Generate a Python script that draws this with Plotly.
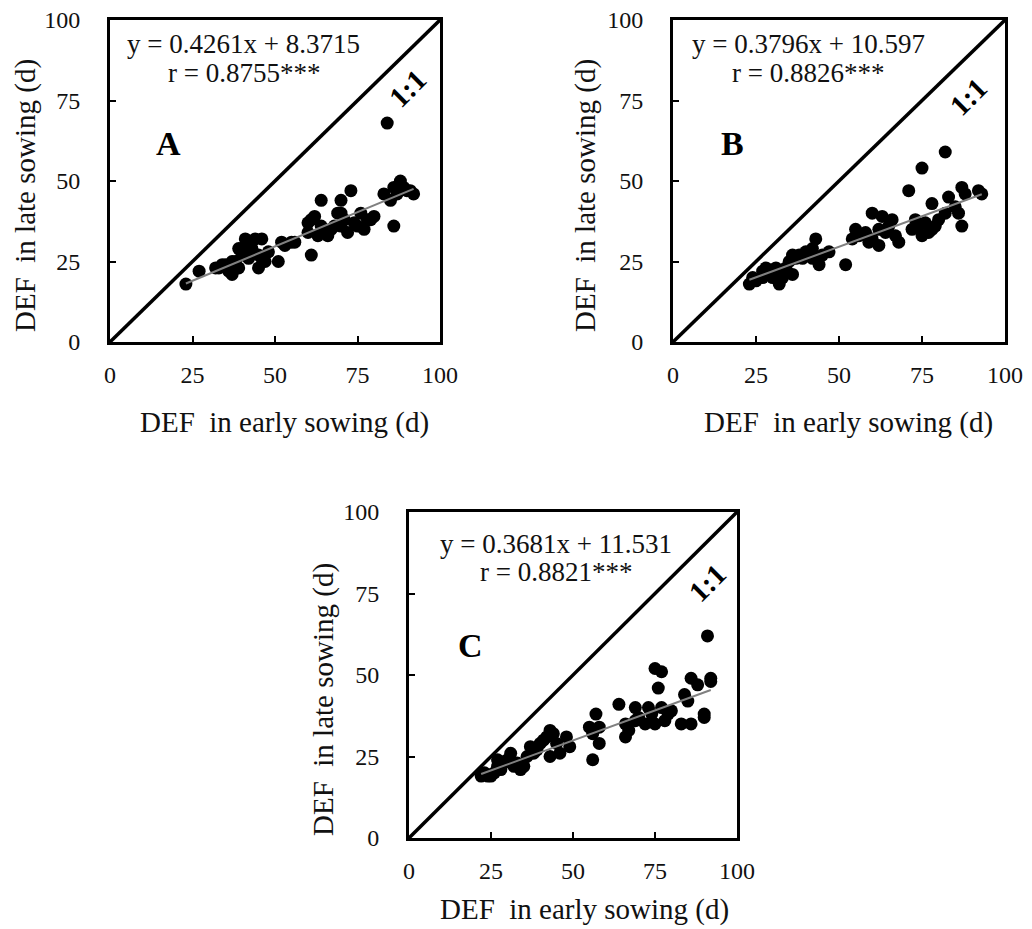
import plotly.graph_objects as go

# Days from emergence to flowering (DEF), early vs. late sowing, three panels
a_early = [23, 27, 32, 33, 34, 35, 36, 37, 37, 38, 39, 39, 40, 41, 41, 42, 43, 44, 45, 45,
           46, 46, 47, 48, 51, 52, 53, 55, 56, 60, 60, 61, 61, 62, 63, 64, 64, 65, 66, 67,
           68, 69, 70, 70, 70, 71, 72, 73, 74, 75, 76, 77, 78, 79, 80, 83, 84, 85, 86, 86,
           87, 88, 89, 90, 91, 92]
a_late = [18, 22, 23, 23, 24, 24, 22, 21, 25, 25, 29, 23, 27, 32, 30, 26, 29, 32, 23, 27,
          32, 26, 25, 28, 25, 31, 30, 31, 31, 37, 34, 27, 38, 39, 33, 44, 36, 34, 33, 35,
          36, 40, 44, 36, 40, 38, 34, 47, 37, 36, 40, 35, 38, 38, 39, 46, 68, 44, 36, 48,
          46, 50, 48, 47, 47, 46]

b_early = [23, 24, 25, 27, 27, 28, 29, 30, 31, 31, 32, 33, 34, 35, 36, 36, 37, 38, 39, 40,
           41, 42, 42, 43, 44, 45, 47, 52, 54, 55, 56, 58, 59, 60, 60, 62, 62, 63, 64, 65,
           66, 67, 68, 71, 72, 73, 74, 75, 75, 76, 77, 78, 78, 79, 80, 82, 82, 83, 85, 86,
           87, 87, 88, 92, 93]
b_late = [18, 20, 19, 20, 22, 23, 21, 20, 22, 23, 18, 20, 23, 25, 21, 27, 26, 27, 26, 28,
          27, 26, 29, 32, 24, 27, 28, 24, 32, 35, 33, 34, 31, 40, 32, 30, 35, 39, 34, 36,
          38, 33, 31, 47, 35, 38, 36, 54, 33, 37, 34, 43, 35, 36, 38, 59, 40, 45, 42, 40,
          48, 36, 46, 47, 46]

c_early = [22, 23, 24, 25, 26, 27, 27, 28, 29, 30, 31, 31, 32, 33, 34, 35, 36, 37, 38, 39,
           40, 41, 42, 43, 43, 44, 45, 46, 48, 49, 55, 56, 56, 57, 58, 58, 64, 66, 66, 67,
           69, 69, 70, 72, 73, 74, 75, 75, 76, 77, 77, 78, 79, 80, 83, 84, 85, 86, 86, 88,
           90, 90, 91, 92, 92]
c_late = [19, 20, 19, 19, 20, 22, 24, 21, 23, 24, 26, 24, 22, 23, 21, 22, 25, 28, 26, 27,
          29, 30, 31, 33, 25, 32, 29, 26, 31, 28, 34, 32, 24, 38, 34, 29, 41, 35, 31, 33,
          40, 36, 37, 35, 40, 38, 52, 35, 46, 51, 40, 36, 38, 39, 35, 44, 42, 35, 49, 47,
          38, 37, 62, 49, 48]

# Fitted regressions as reported on each panel
slopes = [0.4261, 0.3796, 0.3681]
intercepts = [8.3715, 10.597, 11.531]
r_values = ["0.8755", "0.8826", "0.8821"]
panel_labels = ["A", "B", "C"]
tick_vals = [0, 25, 50, 75, 100]
tick_text = ["0", "25", "50", "75", "100"]
one_to_one = [0, 100]

W, H = 1032, 929
SERIF = "Liberation Serif"
INK = "#111111"

# plot-area boxes in pixels: (left, right, top, bottom)
boxes = [(110, 440, 20, 342), (673, 1005, 20, 342), (409, 737, 512, 838)]

panels = [(a_early, a_late), (b_early, b_late), (c_early, c_late)]

fig = go.Figure()
layout = dict(width=W, height=H, margin=dict(l=0, r=0, t=0, b=0, autoexpand=False),
              paper_bgcolor="white", plot_bgcolor="white", showlegend=False)
annotations = []

for i, ((xe, yl), (x0, x1, y0, y1)) in enumerate(zip(panels, boxes)):
    sfx = "" if i == 0 else str(i + 1)
    xa, ya = "x" + sfx, "y" + sfx
    axis_common = dict(range=[0, 100], tickvals=tick_vals, ticktext=tick_text,
                       ticks="inside", ticklen=6, tickwidth=2, tickcolor="black",
                       showline=True, linewidth=3, linecolor="black", mirror=True,
                       showgrid=False, zeroline=False, automargin=False,
                       tickfont=dict(family=SERIF, size=24, color=INK), fixedrange=True)
    layout["xaxis" + sfx] = dict(axis_common, domain=[x0 / W, x1 / W], anchor=ya,
                                 ticklabelstandoff=9)
    layout["yaxis" + sfx] = dict(axis_common, domain=[1 - y1 / H, 1 - y0 / H], anchor=xa,
                                 ticklabelstandoff=22)

    # 1:1 reference line
    fig.add_trace(go.Scatter(x=one_to_one, y=one_to_one, mode="lines",
                             line=dict(color="black", width=3.5),
                             xaxis=xa, yaxis=ya, hoverinfo="skip"))
    # observations
    fig.add_trace(go.Scatter(x=xe, y=yl, mode="markers",
                             marker=dict(color="black", size=13),
                             xaxis=xa, yaxis=ya))
    # regression line over the observed range
    lo, hi = min(xe), max(xe)
    fig.add_trace(go.Scatter(x=[lo, hi],
                             y=[slopes[i] * lo + intercepts[i], slopes[i] * hi + intercepts[i]],
                             mode="lines", line=dict(color="#808080", width=2),
                             xaxis=xa, yaxis=ya, hoverinfo="skip"))

    eq_x = [40.6, 40.7, 44.8][i]
    eq_y = [92.5, 92.5, 90.3][i]
    r_y = [83.4, 83.4, 81.6][i]
    lab_xy = [(17.6, 61.8), (17.8, 61.8), (18.9, 59.2)][i]
    one_xy = [(90.3, 78.9), (88.9, 76.1), (90.9, 78.2)][i]

    annotations += [
        dict(x=eq_x, y=eq_y, xref=xa, yref=ya, showarrow=False,
             text=f"y = {slopes[i]}x + {intercepts[i]}",
             font=dict(family=SERIF, size=27, color=INK)),
        dict(x=eq_x, y=r_y, xref=xa, yref=ya, showarrow=False,
             text=f"r = {r_values[i]}***",
             font=dict(family=SERIF, size=27, color=INK)),
        dict(x=lab_xy[0], y=lab_xy[1], xref=xa, yref=ya, showarrow=False,
             text=f"<b>{panel_labels[i]}</b>",
             font=dict(family=SERIF, size=34, color="black")),
        dict(x=one_xy[0], y=one_xy[1], xref=xa, yref=ya, showarrow=False,
             text="<b>1:1</b>", textangle=-45,
             font=dict(family=SERIF, size=29, color="black")),
    ]

# axis titles
xt = [(284.5, 422), (848.5, 422), (584.5, 909)]
yt = [(25, 196), (585, 196), (323, 700)]
for (px, py) in xt:
    annotations.append(dict(x=px / W, y=1 - py / H, xref="paper", yref="paper",
                            xanchor="center", yanchor="middle",
                            showarrow=False, text="DEF  in early sowing (d)",
                            font=dict(family=SERIF, size=29, color=INK)))
for (px, py) in yt:
    annotations.append(dict(x=px / W, y=1 - py / H, xref="paper", yref="paper",
                            xanchor="center", yanchor="middle",
                            showarrow=False, text="DEF  in late sowing (d)", textangle=-90,
                            font=dict(family=SERIF, size=29, color=INK)))

layout["annotations"] = annotations
fig.update_layout(**layout)
fig.write_html("out.html")
